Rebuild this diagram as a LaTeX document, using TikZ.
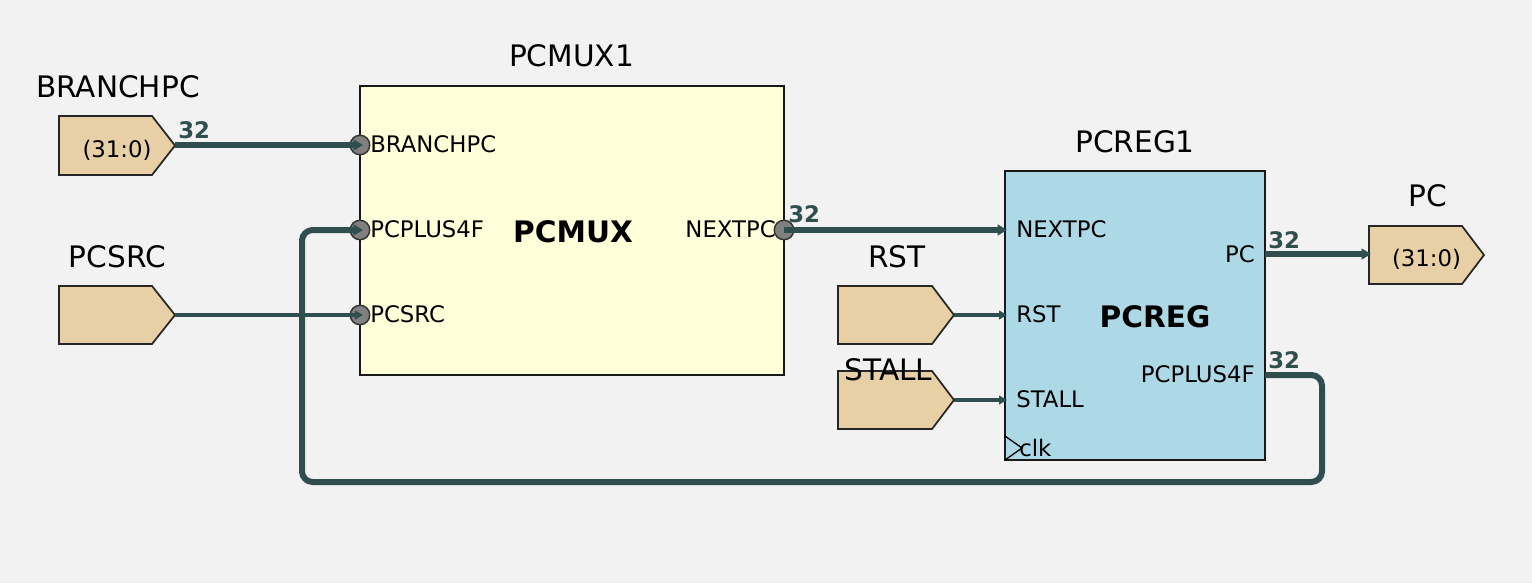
\documentclass[tikz,border=0pt]{standalone}
\usepackage{fontspec}
\setmainfont{DejaVu Sans}
\usetikzlibrary{arrows.meta}
\definecolor{bg}{HTML}{F2F2F2}
\definecolor{wire}{HTML}{2F4F4F}
\definecolor{pinfill}{HTML}{E8D0A6}
\definecolor{muxfill}{HTML}{FFFFDA}
\definecolor{regfill}{HTML}{ADD8E6}
\definecolor{portgray}{HTML}{808080}
\begin{document}
\begin{tikzpicture}[x=0.75pt,y=-0.75pt,
  big/.style={font=\fontsize{22.2}{26}\selectfont, inner sep=0pt, anchor=base},
  bigbold/.style={font=\fontsize{22.2}{26}\selectfont\bfseries, inner sep=0pt, anchor=base},
  small/.style={font=\fontsize{17.1}{20}\selectfont, inner sep=0pt},
  bw/.style={font=\fontsize{17.1}{20}\selectfont\bfseries, text=wire, inner sep=0pt, anchor=base west},
  pinshape/.style={draw=black!85, fill=pinfill, line width=1.3pt, line join=miter},
  block/.style={draw=black!90, line width=1.2pt},
  bus/.style={draw=wire, line width=4.5pt, -{Triangle[length=7pt,width=8pt]}},
  sig/.style={draw=wire, line width=2.4pt, -{Triangle[length=6pt,width=6.5pt]}},
  port/.style={draw=black!80, fill=portgray, line width=1.1pt}]

\fill[bg] (0,0) rectangle (1532,583);
\useasboundingbox (0,0) rectangle (1532,583);

% blocks
\draw[block, fill=muxfill] (360,86) rectangle (784,375);
\draw[block, fill=regfill] (1005,171) rectangle (1265,460);
\draw[black, line width=1pt] (1005,436) -- (1022,448) -- (1005,460);

% port coordinates
\coordinate (mux-branchpc) at (363,145);
\coordinate (mux-pcplus4f) at (363,230);
\coordinate (mux-pcsrc) at (363,315);
\coordinate (mux-nextpc) at (784,230);
\coordinate (reg-nextpc) at (1007,230);
\coordinate (reg-rst) at (1007,315);
\coordinate (reg-stall) at (1007,400);
\coordinate (reg-pc) at (1265,254);
\coordinate (reg-pcplus4f) at (1265,375);

% mux port circles
\foreach \yy in {145,230,315} \draw[port] (360,\yy) circle[radius=7.3pt];
\draw[port] (784,230) circle[radius=7.3pt];

% pins
\draw[pinshape] (59,116) -- (152,116) -- (175,145.5) -- (152,175) -- (59,175) -- cycle;
\coordinate (pin-branchpc) at (175,145);
\draw[pinshape] (59,286) -- (152,286) -- (175,315) -- (152,344) -- (59,344) -- cycle;
\coordinate (pin-pcsrc) at (175,315);
\draw[pinshape] (838,286) -- (932,286) -- (954,315) -- (932,344) -- (838,344) -- cycle;
\coordinate (pin-rst) at (954,315);
\draw[pinshape] (838,371) -- (932,371) -- (954,400) -- (932,429) -- (838,429) -- cycle;
\coordinate (pin-stall) at (954,400);
\draw[pinshape] (1369,226) -- (1462,226) -- (1484,255) -- (1462,284) -- (1369,284) -- cycle;
\coordinate (pin-pc) at (1371,254);

% wires
\draw[bus] (pin-branchpc) -- (mux-branchpc);
\draw[sig] (pin-pcsrc) -- (mux-pcsrc);
\draw[bus] (mux-nextpc) -- (reg-nextpc);
\draw[sig] (pin-rst) -- (reg-rst);
\draw[sig] (pin-stall) -- (reg-stall);
\draw[bus] (reg-pc) -- (pin-pc);
\draw[bus, rounded corners=8pt] (reg-pcplus4f) -- (1322,375) -- (1322,482) -- (302,482) -- (302,230) -- (mux-pcplus4f);

% titles
\node[big] (t-branchpc) at (118,97) {BRANCHPC};
\node[big] (t-pcsrc) at (117.5,267) {PCSRC};
\node[big] (t-pcmux1) at (571.5,66) {PCMUX1};
\node[bigbold] (t-pcmux) at (573,242) {PCMUX};
\node[big] (t-pcreg1) at (1135,152) {PCREG1};
\node[bigbold] (t-pcreg) at (1155,327) {PCREG};
\node[big] (t-rst) at (897,267) {RST};
\node[big] (t-stall) at (888.5,380) {STALL};
\node[big] (t-pc) at (1427.5,206) {PC};

% port labels
\node[small, anchor=base west] (l-mbranch) at (370,152) {BRANCHPC};
\node[small, anchor=base west] (l-mplus) at (370,237) {PCPLUS4F};
\node[small, anchor=base west] (l-msrc) at (370,322) {PCSRC};
\node[small, anchor=base east] (l-mnext) at (776,237) {NEXTPC};
\node[small, anchor=base west] (l-rnext) at (1016,237) {NEXTPC};
\node[small, anchor=base west] (l-rrst) at (1016,322) {RST};
\node[small, anchor=base west] (l-rstall) at (1016,407) {STALL};
\node[small, anchor=base west] (l-rclk) at (1019,456) {clk};
\node[small, anchor=base east] (l-rpc) at (1255,262) {PC};
\node[small, anchor=base east] (l-rplus) at (1255,382) {PCPLUS4F};
\node[small, anchor=base] (l-pin1) at (117,157) {(31:0)};
\node[small, anchor=base] (l-pin2) at (1426.5,266) {(31:0)};

% bus widths
\node[bw] (w1) at (178,138) {32};
\node[bw] (w2) at (788,222) {32};
\node[bw] (w3) at (1268,248) {32};
\node[bw] (w4) at (1268,368) {32};
\end{tikzpicture}
\end{document}
